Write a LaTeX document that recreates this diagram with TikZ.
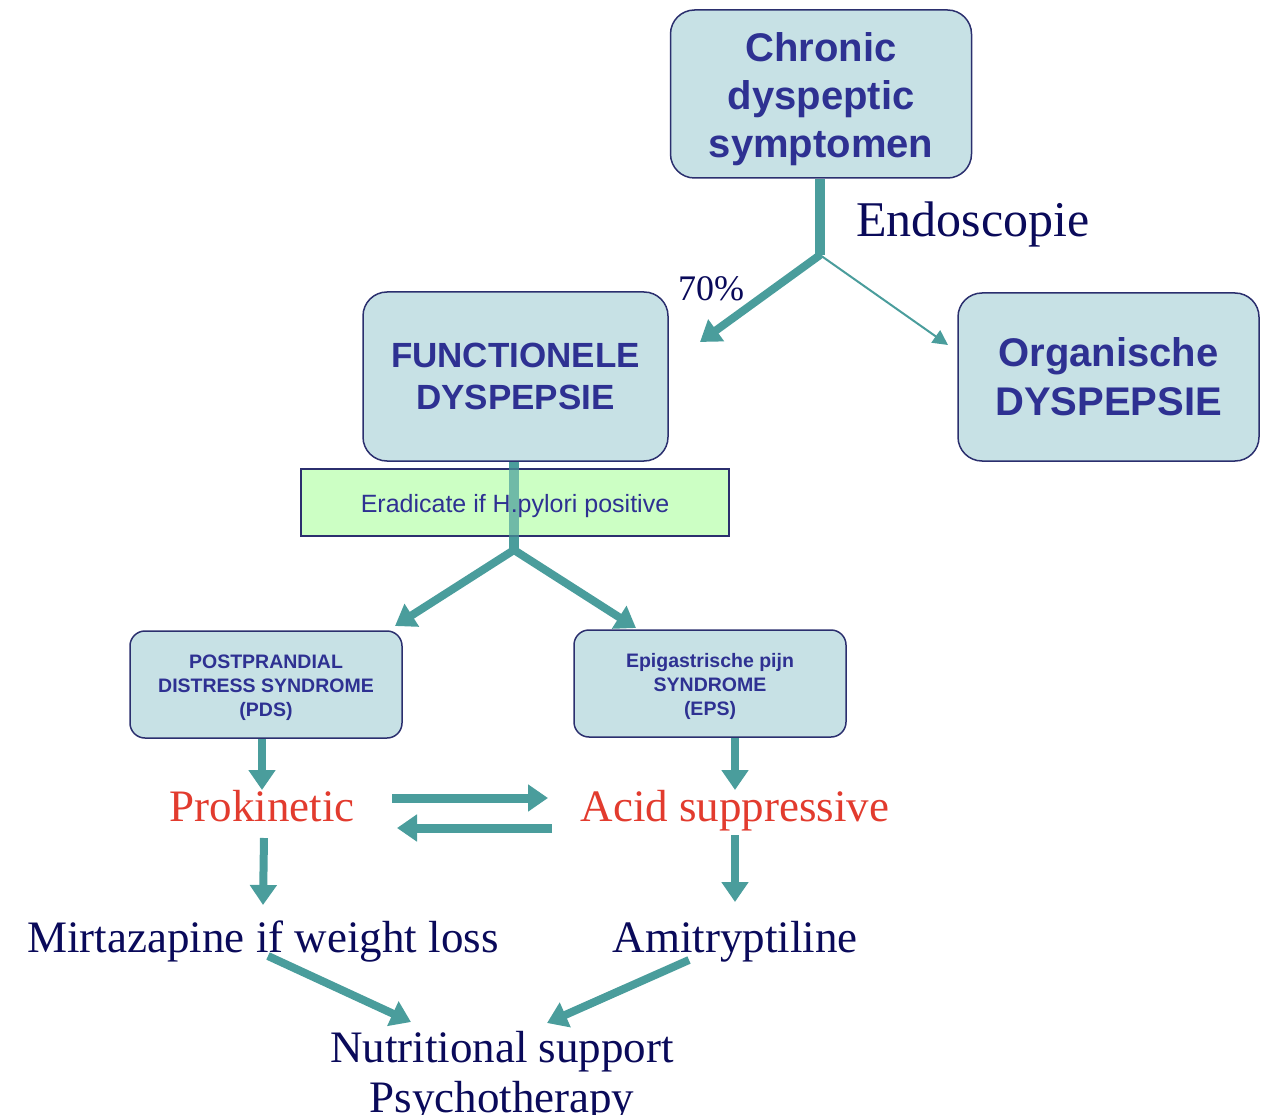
\documentclass[tikz,border=0pt]{standalone}
\usepackage{fontspec}
\setmainfont{Liberation Serif}
\setsansfont{Liberation Sans}
\usetikzlibrary{arrows.meta}
\definecolor{tealc}{HTML}{4A9D9C}
\definecolor{boxfill}{HTML}{C7E1E5}
\definecolor{boxline}{HTML}{2B2F6E}
\definecolor{boxtext}{HTML}{2E3192}
\definecolor{navyt}{HTML}{0A0A5A}
\definecolor{redt}{HTML}{E23B2E}
\definecolor{greenfill}{HTML}{CCFFC4}
\begin{document}
\begin{tikzpicture}[x=1pt,y=-1pt,
  bigbox/.style={draw=boxline, line width=1.5pt, fill=boxfill, rounded corners=24pt,
    text=boxtext, font=\sffamily\bfseries, align=center, inner sep=0pt},
  smallbox/.style={bigbox, rounded corners=15pt},
  conn/.style={draw=tealc, line width=8pt},
  tipb/.style={-{Triangle[length=20pt,width=26pt]}},
  sertext/.style={font=\fontsize{45}{50}\selectfont, text=navyt, align=center, inner sep=0pt, anchor=base}
]
\useasboundingbox (0,0) rectangle (1280,1115);
\clip (0,0) rectangle (1280,1115);

% boxes (shapes) and texts
\node[bigbox, minimum width=301pt, minimum height=168pt] (chronic) at (821,94) {};
\node[text=boxtext, font=\sffamily\bfseries\fontsize{40}{48}\selectfont, align=center, inner sep=0pt]
  (chronict) at (821,99) {Chronic\\dyspeptic\\symptomen};
\node[bigbox, minimum width=305pt, minimum height=169pt,
  font=\sffamily\bfseries\fontsize{35}{42}\selectfont] (func) at (515.5,376.5)
  {FUNCTIONELE\\DYSPEPSIE};
\node[bigbox, minimum width=301pt, minimum height=168pt,
  font=\sffamily\bfseries\fontsize{40}{49}\selectfont] (org) at (1108.5,377)
  {Organische\\DYSPEPSIE};

% labels top
\node[font=\fontsize{50}{55}\selectfont, text=navyt, inner sep=0pt] (endo) at (973,224) {Endoscopie};
\node[font=\fontsize{36}{40}\selectfont, text=navyt, inner sep=0pt] (pct) at (711,289) {70\%};

% top connectors
\coordinate (j1) at (820,255);
\coordinate (e70) at (700,342);
\coordinate (eorg) at (948,345);
\draw[conn, line width=10pt] (chronic.south -| j1) -- (j1);
\draw[conn, tipb] (j1) -- (e70);
\draw[draw=tealc, line width=2pt, -{Triangle[length=15pt,width=15pt]}] (j1) -- (eorg);

% vertical line through green box
\coordinate (j2) at (514,550);
\draw[conn, line width=10pt] (func.south -| j2) -- (j2);
\node[draw=boxline, line width=1.5pt, fill=greenfill,
  minimum width=428pt, minimum height=67pt, inner sep=0pt] (erad) at (515,502.5) {};
\draw[draw=tealc, line width=10pt, opacity=0.7] (erad.north -| j2) -- (erad.south -| j2);
\node[font=\sffamily\fontsize{25}{28}\selectfont, text=boxtext, inner sep=0pt] (eradt) at (515,506)
  {Eradicate if H.pylori positive};

% small boxes
\node[smallbox, minimum width=272pt, minimum height=107pt] (pds) at (266,684.5) {};
\node[text=boxtext, font=\sffamily\bfseries\fontsize{19.5}{24}\selectfont, align=center, inner sep=0pt]
  (pdst) at (266,687.5) {POSTPRANDIAL\\DISTRESS SYNDROME\\(PDS)};
\node[smallbox, minimum width=272pt, minimum height=107pt] (eps) at (710,683.5) {};
\node[text=boxtext, font=\sffamily\bfseries\fontsize{19.5}{24}\selectfont, align=center, inner sep=0pt]
  (epst) at (710,686.5) {Epigastrische pijn\\SYNDROME\\(EPS)};

\coordinate (epds) at (395,626);
\coordinate (eeps) at (636,628);
\draw[conn, tipb] (j2) -- (epds);
\draw[conn, tipb] (j2) -- (eeps);

% treatments
\node[sertext, text=redt] (pro) at (262,821) {Prokinetic};
\node[sertext, text=redt] (acid) at (735,821) {Acid suppressive};
\node[sertext] (mirt) at (263,952.5) {Mirtazapine if weight loss};
\node[sertext] (ami) at (735,952.5) {Amitryptiline};
\node[sertext] (nut) at (502,1062.5) {Nutritional support};
\node[sertext] (psy) at (502,1112.5) {Psychotherapy};

\coordinate (pdsb) at (262,739);
\coordinate (proT) at (262,790);
\draw[conn, tipb] (pdsb) -- (proT);
\coordinate (epsb) at (735,738);
\coordinate (acidT) at (735,790);
\draw[conn, tipb] (epsb) -- (acidT);

\coordinate (ra1) at (392,798);
\coordinate (ra2) at (548,798);
\coordinate (la1) at (552,828);
\coordinate (la2) at (397,828);
\draw[conn, line width=9pt, tipb] (ra1) -- (ra2);
\draw[conn, line width=9pt, tipb] (la1) -- (la2);

\coordinate (proB) at (264,838);
\coordinate (mirtT) at (263,905);
\draw[conn, tipb] (proB) -- (mirtT);
\coordinate (acidB) at (735,835);
\coordinate (amiT) at (735,902);
\draw[conn, tipb] (acidB) -- (amiT);

\coordinate (mirtB) at (268,956);
\coordinate (nutL) at (411,1022);
\coordinate (amiB) at (689,960);
\coordinate (nutR) at (547,1023);
\draw[conn, tipb] (mirtB) -- (nutL);
\draw[conn, tipb] (amiB) -- (nutR);
\end{tikzpicture}
\end{document}
